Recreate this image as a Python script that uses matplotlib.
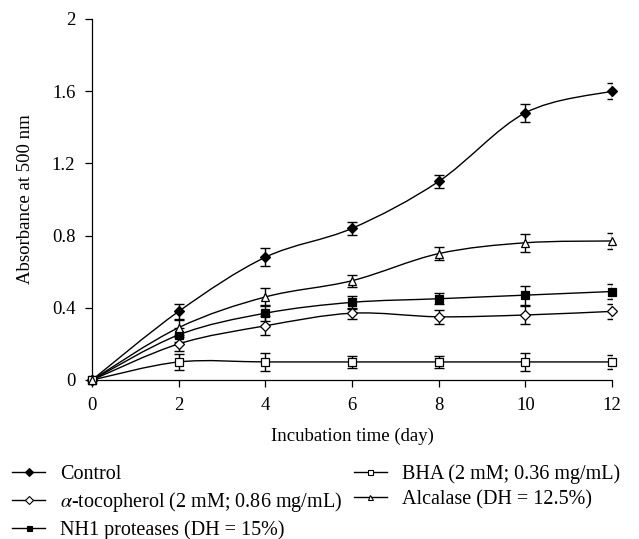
import numpy as np
import matplotlib as mpl
mpl.use("Agg")
import matplotlib.pyplot as plt
from matplotlib.path import Path
from matplotlib.patches import PathPatch
from matplotlib.lines import Line2D

mpl.rcParams.update({
    "font.family": "serif",
    "font.serif": ["Liberation Serif", "DejaVu Serif"],
    "mathtext.fontset": "stix",
    "font.size": 13.5,
    "axes.linewidth": 0.9,
    "xtick.direction": "out", "ytick.direction": "out",
})

days = [0, 2, 4, 6, 8, 10, 12]

control = [0, 0.38, 0.68, 0.84, 1.10, 1.48, 1.60]
control_err = [0, 0.043, 0.05, 0.035, 0.037, 0.05, 0.044]

tocopherol = [0, 0.20, 0.30, 0.37, 0.35, 0.36, 0.38]
tocopherol_err = [0, 0.04, 0.053, 0.03, 0.04, 0.05, 0.04]

nh1 = [0, 0.25, 0.37, 0.43, 0.45, 0.47, 0.49]
nh1_err = [0, 0.04, 0.045, 0.035, 0.03, 0.053, 0.04]

bha = [0, 0.10, 0.10, 0.10, 0.10, 0.10, 0.10]
bha_err = [0, 0.044, 0.05, 0.035, 0.035, 0.05, 0.04]

alcalase = [0, 0.29, 0.46, 0.55, 0.70, 0.76, 0.77]
alcalase_err = [0, 0.04, 0.05, 0.033, 0.035, 0.05, 0.044]

labels = [
    "Control",
    r"$\alpha$-tocopherol (2 mM; 0.86 mg/mL)",
    "NH1 proteases (DH = 15%)",
    "BHA (2 mM; 0.36 mg/mL)",
    "Alcalase (DH = 12.5%)",
]
series = [
    (control, control_err, "D", "black"),
    (tocopherol, tocopherol_err, "D", "white"),
    (nh1, nh1_err, "s", "black"),
    (bha, bha_err, "s", "white"),
    (alcalase, alcalase_err, "^", "white"),
]


def smooth_path(x, y):
    """Catmull-Rom curve through the points, handed to matplotlib as Bezier segments."""
    x = np.asarray(x, float); y = np.asarray(y, float)
    px = np.r_[x[0], x, x[-1]]; py = np.r_[y[0], y, y[-1]]
    verts = [(x[0], y[0])]; codes = [Path.MOVETO]
    for i in range(1, len(x)):
        c1 = (px[i] + (px[i + 1] - px[i - 1]) / 6, py[i] + (py[i + 1] - py[i - 1]) / 6)
        c2 = (px[i + 1] - (px[i + 2] - px[i]) / 6, py[i + 1] - (py[i + 2] - py[i]) / 6)
        verts += [c1, c2, (px[i + 1], py[i + 1])]
        codes += [Path.CURVE4] * 3
    return Path(verts, codes)


fig = plt.figure(figsize=(6.39, 5.39), dpi=100)
ax = fig.add_axes([0.144, 0.295, 0.814, 0.670])

handles = []
for (vals, err, mk, fc), lab in zip(series, labels):
    ax.add_patch(PathPatch(smooth_path(days, vals), facecolor="none",
                           edgecolor="black", lw=1.0, zorder=2))
    ax.errorbar(days, vals, yerr=err, fmt="none", ecolor="black",
                elinewidth=1.0, capsize=3.3, capthick=1.0, zorder=3)
    ms = 5 if mk == "D" else 5.5
    ax.plot(days, vals, ls="none", marker=mk, ms=ms, mfc=fc, mec="black",
            mew=0.9, zorder=4, clip_on=False)
    handles.append(Line2D([0], [0], color="black", lw=1.0, marker=mk,
                          ms=3.6, mfc=fc, mec="black", mew=0.8))

ax.set_xlim(0, 12)
ax.set_ylim(0, 2)
ax.set_xticks(range(0, 13, 2))
ax.set_yticks([0, 0.4, 0.8, 1.2, 1.6, 2])
ax.set_yticklabels(["0", "0.4", "0.8", "1.2", "1.6", "2"])
ax.set_xlabel("Incubation time (day)", labelpad=10)
ax.set_ylabel("Absorbance at 500 nm", labelpad=13)
for sp in ("top", "right"):
    ax.spines[sp].set_visible(False)
ax.tick_params(length=5, width=0.9, pad=7)

fig.legend(handles, labels, loc="upper left", ncol=2, frameon=False,
           fontsize=14.5, bbox_to_anchor=(12 / 639, 1 - 464 / 539),
           handlelength=1.65, handletextpad=0.75, columnspacing=0.55,
           labelspacing=0.3, borderaxespad=0.0, borderpad=0.0)

fig.savefig("out.png", dpi=100)
